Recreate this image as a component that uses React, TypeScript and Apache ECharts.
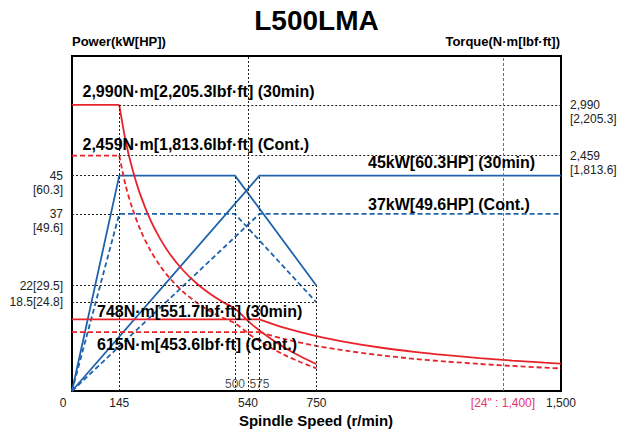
import React, { useEffect, useRef } from 'react';
import * as echarts from 'echarts';

// ---- axis ticks / labels ----
const speedTicks = [0, 145, 540, 750, 1322, 1500];
const speedTickLabels = ['{z|0}', '145', '540', '750', '{p|[24" : 1,400]}', '1,500'];
const innerSpeedTicks = [500, 575];
const powerTicks = [18.5, 22, 45];
const powerTickLabels = ['18.5[24.8]', '22[29.5]', '\n45\n[60.3]'];
const powerTicksB = [37];
const powerTickLabelsB = ['\n37\n[49.6]'];
const torqueTicks = [2459, 2990];
const torqueTickLabels = ['\n2,459\n[1,813.6]', '\n2,990\n[2,205.3]'];

// ---- power (kW) vs speed (r/min) ----
const powerLow30 = [[0, 0], [145, 45], [500, 45], [750, 22]];
const powerLowCont = [[0, 0], [145, 37], [500, 37], [750, 18.5]];
const powerHigh30 = [[0, 0], [575, 45], [1500, 45]];
const powerHighCont = [[0, 0], [575, 37], [1500, 37]];

// ---- torque (N·m) vs speed (r/min) ----
const torqueLow30Flat = [[0, 2990], [145, 2990]];
const torqueLow30Curve = [
  [145, 2990], [165, 2604], [185, 2323], [210, 2046], [240, 1790], [270, 1592],
  [300, 1432], [340, 1264], [380, 1131], [420, 1023], [460, 934], [500, 859],
  [550, 701], [600, 570], [650, 458], [700, 363], [750, 280],
];
const torqueLowContFlat = [[0, 2459], [145, 2459]];
const torqueLowContCurve = [
  [145, 2459], [165, 2141], [185, 1910], [210, 1682], [240, 1472], [270, 1309],
  [300, 1178], [340, 1039], [380, 930], [420, 841], [460, 768], [500, 707],
  [550, 578], [600, 471], [650, 380], [700, 303], [750, 236],
];
const torqueHigh30Flat = [[0, 748], [575, 748]];
const torqueHigh30Curve = [
  [575, 748], [650, 661], [750, 573], [850, 506], [950, 452], [1050, 409],
  [1150, 374], [1250, 344], [1350, 318], [1450, 296], [1500, 286],
];
const torqueHighContFlat = [[0, 615], [575, 615]];
const torqueHighContCurve = [
  [575, 615], [650, 544], [750, 471], [850, 416], [950, 372], [1050, 336],
  [1150, 307], [1250, 283], [1350, 262], [1450, 244], [1500, 236],
];

// ---- reference guide segments ----
const powerGuides = [
  [[0, 45], [145, 45]],
  [[0, 37], [145, 37]],
  [[0, 22], [750, 22]],
  [[0, 18.5], [750, 18.5]],
  [[500, 0], [500, 45]],
  [[575, 0], [575, 45]],
  [[750, 0], [750, 22]],
  [[540, 0], [540, 70]],
];
const torqueGuides = [
  [[145, 2990], [1500, 2990]],
  [[145, 2459], [1500, 2459]],
  [[145, 0], [145, 2990]],
];
const markSpeed = 1322;

const FONT = '"Liberation Sans", Arial, Helvetica, sans-serif';
const BLUE = '#1f63ad';
const RED = '#e8232a';
const PINK = '#e8336e';

export default function App() {
  const ref = useRef<HTMLDivElement>(null);
  useEffect(() => {
    if (!ref.current) return;
    const chart = echarts.init(ref.current, undefined, { renderer: 'svg' });

    const blueLine = (name: string, data: number[][], dashed: boolean) => ({
      name, type: 'line', data, yAxisIndex: 0, symbol: 'none', silent: true,
      lineStyle: { color: BLUE, width: 1.8, type: dashed ? [5, 3] : 'solid' },
    });
    const redLine = (name: string, data: number[][], dashed: boolean, smooth: boolean) => ({
      name, type: 'line', data, yAxisIndex: 1, symbol: 'none', silent: true,
      smooth: smooth ? 0.3 : false,
      lineStyle: { color: RED, width: 1.8, type: dashed ? [5, 3] : 'solid' },
    });
    const guide = (segs: number[][][], color = '#222', type: any = [2, 2]) => ({
      silent: true, symbol: ['none', 'none'], animation: false,
      label: { show: false },
      lineStyle: { color, width: 1, type },
      data: segs.map((s) => [{ coord: s[0] }, { coord: s[1] }]),
    });

    const txt = (text: string, x: number, y: number, size: number, align = 'left', color = '#000') => ({
      type: 'text', x, y, silent: true, z: 100,
      style: { text, font: `bold ${size}px ${FONT}`, fill: color, align, verticalAlign: 'middle', textAlign: align, textVerticalAlign: 'middle' },
    });

    const yAx = (pos: string, max: number, ticks: number[], labels: string[]) => ({
      type: 'value', min: 0, max, position: pos,
      axisLine: { show: false }, axisTick: { show: false }, splitLine: { show: false },
      axisLabel: {
        customValues: ticks, hideOverlap: false, showMinLabel: true, showMaxLabel: true,
        formatter: (v: number) => labels[ticks.indexOf(v)] ?? '',
        color: '#222', fontSize: 12, lineHeight: 14, margin: 9, fontFamily: FONT,
      },
    });

    const option: any = {
      animation: false,
      textStyle: { fontFamily: FONT },
      grid: {
        left: 72, right: 64, top: 56, bottom: 41,
        show: true, borderColor: '#000', borderWidth: 2, backgroundColor: 'transparent',
        outerBoundsMode: 'none',
      },
      xAxis: {
        type: 'value', min: 0, max: 1500,
        axisLine: { show: false }, axisTick: { show: false }, splitLine: { show: false },
        axisLabel: {
          customValues: speedTicks, hideOverlap: false, showMinLabel: true, showMaxLabel: true,
          formatter: (v: number) => speedTickLabels[speedTicks.indexOf(v)] ?? '',
          color: '#222', fontSize: 12, margin: 6, fontFamily: FONT,
          rich: {
            z: { color: '#222', fontSize: 12, fontFamily: FONT, padding: [0, 18, 0, 0] },
            p: { color: PINK, fontSize: 12, fontFamily: FONT },
          },
        },
      },
      yAxis: [
        yAx('left', 70, powerTicks, powerTickLabels),
        yAx('right', 3500, torqueTicks, torqueTickLabels),
        yAx('left', 70, powerTicksB, powerTickLabelsB),
      ],
      series: [
        { ...blueLine('P low 30min', powerLow30, false), markLine: guide(powerGuides) },
        blueLine('P low cont', powerLowCont, true),
        blueLine('P high 30min', powerHigh30, false),
        blueLine('P high cont', powerHighCont, true),
        { ...redLine('T low 30min flat', torqueLow30Flat, false, false), markLine: guide(torqueGuides) },
        redLine('T low 30min', torqueLow30Curve, false, true),
        { ...redLine('T low cont flat', torqueLowContFlat, true, false),
          markLine: guide([[[markSpeed, 0], [markSpeed, 3500]]], PINK, [3, 2]) },
        redLine('T low cont', torqueLowContCurve, true, true),
        redLine('T high 30min flat', torqueHigh30Flat, false, false),
        redLine('T high 30min', torqueHigh30Curve, false, true),
        redLine('T high cont flat', torqueHighContFlat, true, false),
        redLine('T high cont', torqueHighContCurve, true, true),
        {
          type: 'scatter', yAxisIndex: 0, symbolSize: 0, silent: true,
          data: innerSpeedTicks.map((s) => [s, 0]),
          label: {
            show: true, position: 'top', distance: 1,
            formatter: (p: any) => String(p.value[0]),
            color: '#222', fontSize: 12, fontFamily: FONT,
          },
        },
      ],
      graphic: [
        txt('L500LMA', 316.5, 20, 28, 'center'),
        txt('Power(kW[HP])', 72, 41.5, 13, 'left'),
        txt('Torque(N·m[lbf·ft])', 560, 41.5, 13, 'right'),
        txt('Spindle Speed (r/min)', 316, 420, 15, 'center'),
        txt('2,990N·m[2,205.3lbf·ft] (30min)', 82.5, 91.5, 16),
        txt('2,459N·m[1,813.6lbf·ft] (Cont.)', 82.5, 144.5, 16),
        txt('45kW[60.3HP] (30min)', 368, 162.5, 16),
        txt('37kW[49.6HP] (Cont.)', 368, 204, 16),
        txt('748N·m[551.7lbf·ft] (30min)', 97, 311, 16),
        txt('615N·m[453.6lbf·ft] (Cont.)', 97, 344.5, 16),
      ],
    };
    chart.setOption(option);
    return () => chart.dispose();
  }, []);
  return <div ref={ref} style={{ width: 625, height: 432, position: 'absolute', left: 0, top: 0, background: '#fff' }} />;
}
